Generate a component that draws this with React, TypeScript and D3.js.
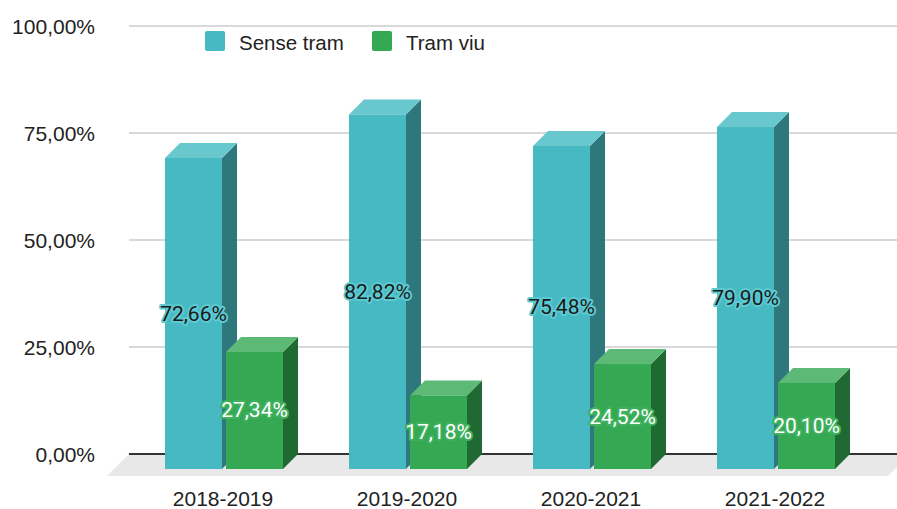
import React from "react";
import * as d3 from "d3";

const categories = ["2018-2019", "2019-2020", "2020-2021", "2021-2022"];
const senseTram = [72.66, 82.82, 75.48, 79.9];
const tramViu = [27.34, 17.18, 24.52, 20.1];
const yTicks = [0, 25, 50, 75, 100];
const seriesNames = ["Sense tram", "Tram viu"];

const W = 897;
const H = 509;
const DX = 15;
const DY = -15;

const palettes = [
  { front: "#47b9c3", side: "#2e777d", top: "#68c8ce", text: "#1a1a1a", halo: "#5ccad2" },
  { front: "#34a853", side: "#1f6a33", top: "#5cba76", text: "#ffffff", halo: "#3fb15f" },
];

const fmt = (v: number) => v.toFixed(2).replace(".", ",") + "%";

export default function App() {
  const x0 = d3.scaleBand<string>().domain(categories).range([132, 868]);
  const y = d3.scaleLinear().domain([0, 100]).range([469, 41]);
  const barW = 57;
  const offsets = [-59, 2];
  const series = [senseTram, tramViu];
  const floorTop = y(0) + DY;
  const floorBottom = floorTop + 22;

  return (
    <svg width={W} height={H} style={{ display: "block", position: "absolute", left: 0, top: 0 }}>
      <rect width={W} height={H} fill="#fff" />
      {/* floor */}
      <polygon
        points={`129,${floorTop} 910,${floorTop} 888,${floorBottom} 107,${floorBottom}`}
        fill="#e8e8e8"
      />
      {/* gridlines */}
      {yTicks.map((t) => (
        <g key={t}>
          {t !== 0 && (
            <line x1={129} x2={W} y1={y(t) + DY} y2={y(t) + DY} stroke="#cccccc" strokeWidth={1.5} />
          )}
          <text
            x={95}
            y={y(t) + DY}
            textAnchor="end"
            dominantBaseline="central"
            fontFamily="'Liberation Sans', Arial, sans-serif"
            fontSize={21}
            fill="#222"
          >
            {fmt(t)}
          </text>
        </g>
      ))}
      <line x1={129} x2={W} y1={floorTop} y2={floorTop} stroke="#333" strokeWidth={2} />
      {/* bars */}
      {categories.map((c, i) => {
        const center = (x0(c) as number) + x0.bandwidth() / 2;
        return (
          <g key={c}>
            {series.map((s, k) => {
              const p = palettes[k];
              const x = center + offsets[k];
              const yt = y(s[i]);
              const yb = y(0);
              return (
                <g key={k}>
                  <polygon
                    points={`${x + barW},${yt} ${x + barW + DX},${yt + DY} ${x + barW + DX},${yb + DY} ${x + barW},${yb}`}
                    fill={p.side}
                  />
                  <polygon
                    points={`${x},${yt} ${x + DX},${yt + DY} ${x + barW + DX},${yt + DY} ${x + barW},${yt}`}
                    fill={p.top}
                  />
                  <rect x={x} y={yt} width={barW} height={yb - yt} fill={p.front} />
                </g>
              );
            })}
          </g>
        );
      })}
      {/* labels */}
      {categories.map((c, i) => {
        const center = (x0(c) as number) + x0.bandwidth() / 2;
        return (
          <g key={c}>
            {series.map((s, k) => {
              const p = palettes[k];
              const cx = center + offsets[k] + barW / 2;
              const cy = (y(s[i]) + y(0)) / 2;
              return (
                <text
                  key={k}
                  x={cx}
                  y={cy}
                  textAnchor="middle"
                  dominantBaseline="central"
                  fontFamily="Roboto, sans-serif"
                  fontSize={21}
                  fill={p.text}
                  stroke={p.halo}
                  strokeWidth={4}
                  strokeLinejoin="round"
                  paintOrder="stroke"
                >
                  {fmt(s[i])}
                </text>
              );
            })}
            <text
              x={center - 1}
              y={498}
              textAnchor="middle"
              dominantBaseline="central"
              fontFamily="'Liberation Sans', Arial, sans-serif"
              fontSize={21}
              fill="#222"
            >
              {c}
            </text>
          </g>
        );
      })}
      {/* legend */}
      {seriesNames.map((n, k) => {
        const lx = [205, 372][k];
        return (
          <g key={n}>
            <rect x={lx} y={31} width={20} height={20} rx={2} fill={palettes[k].front} />
            <text
              x={lx + 34}
              y={42}
              dominantBaseline="central"
              fontFamily="'Liberation Sans', Arial, sans-serif"
              fontSize={20.5}
              fill="#222"
            >
              {n}
            </text>
          </g>
        );
      })}
    </svg>
  );
}
